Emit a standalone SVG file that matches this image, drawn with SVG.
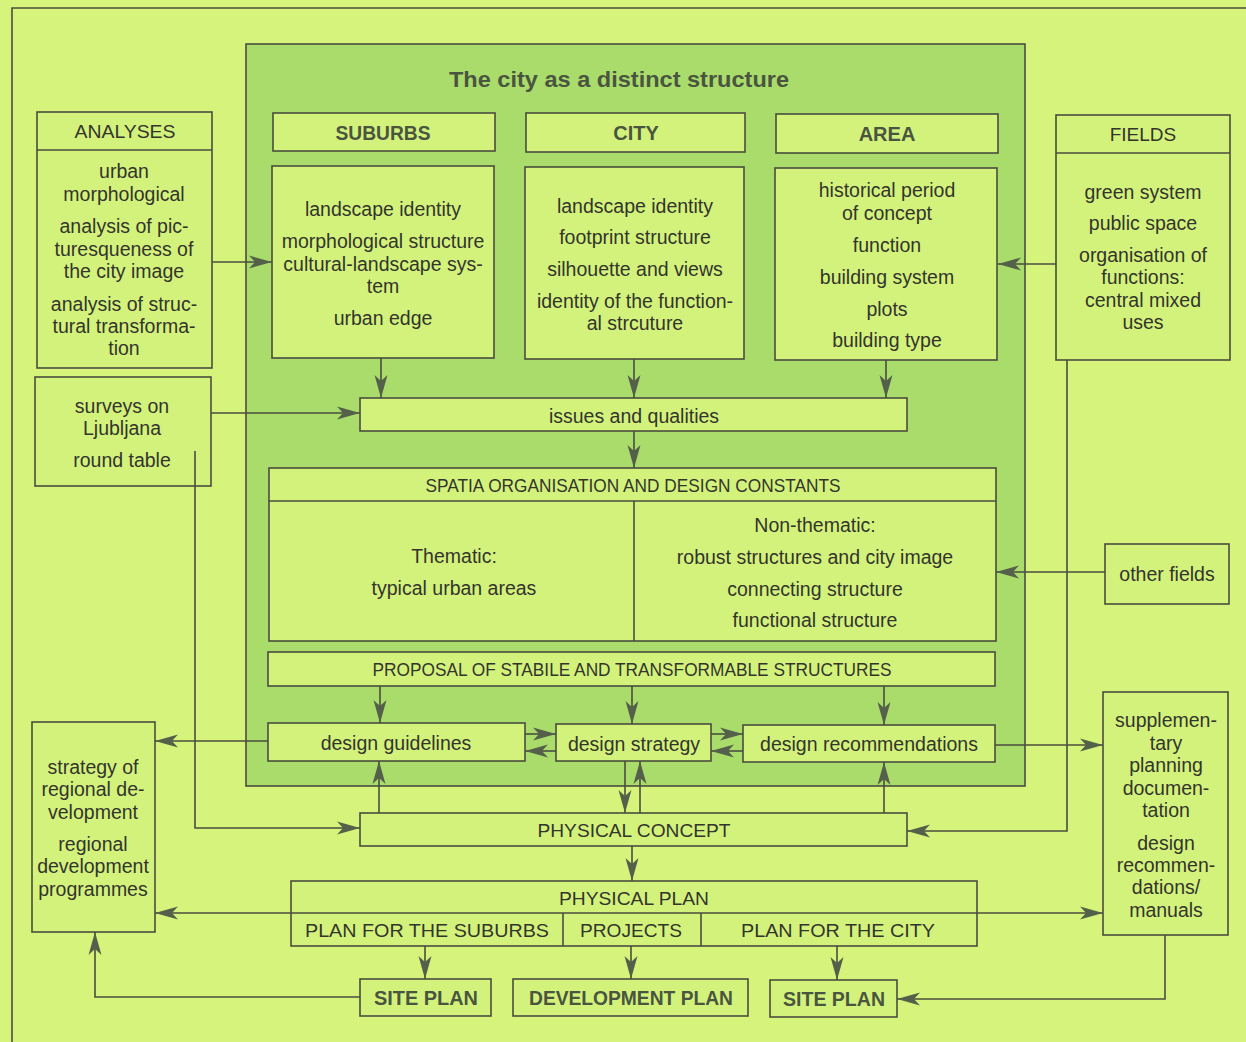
<svg xmlns="http://www.w3.org/2000/svg" width="1246" height="1042" viewBox="0 0 1246 1042">
<defs>
<style>
.bx{fill:#d3f27c;stroke:#4a4d3e;stroke-width:1.6}
.ln{fill:none;stroke:#4a4d3e;stroke-width:1.6}
.t{font-family:"Liberation Sans",Arial,sans-serif;font-size:19.5px;fill:#33352c;text-anchor:middle}
.u{font-family:"Liberation Sans",Arial,sans-serif;font-size:19px;fill:#33352c;text-anchor:middle}
.b{font-family:"Liberation Sans",Arial,sans-serif;font-size:20px;font-weight:bold;fill:#4a5540;text-anchor:middle}
.c{stroke:#4a4d3e;stroke-width:1.6;fill:none;marker-end:url(#ah)}
</style>
<marker id="ah" markerWidth="26" markerHeight="16" refX="23" refY="8" orient="auto" markerUnits="userSpaceOnUse">
<path d="M0,1.5 L23,8 L0,14.5 L6,8 z" fill="#55604a"/>
</marker>
</defs>
<rect width="1246" height="1042" fill="#d6f47c"/>
<path class="ln" d="M12,1042 V8 H1246"/>
<g id="panel">
<rect x="246" y="44" width="779" height="742" fill="#aadc6c" stroke="#4a4d3e" stroke-width="1.6"/>
<text x="619" y="87" class="b" style="font-size:22px" textLength="340" lengthAdjust="spacingAndGlyphs">The city as a distinct structure</text>
</g>
<g id="analyses">
<rect class="bx" x="37" y="112" width="175" height="256"/>
<line class="ln" x1="37" y1="150" x2="212" y2="150"/>
<text class="u" x="125" y="138" textLength="101" lengthAdjust="spacingAndGlyphs">ANALYSES</text>
<text class="t" x="124" y="178">urban</text>
<text class="t" x="124" y="201">morphological</text>
<text class="t" x="124" y="233">analysis of pic-</text>
<text class="t" x="124" y="256">turesqueness of</text>
<text class="t" x="124" y="278">the city image</text>
<text class="t" x="124" y="311">analysis of struc-</text>
<text class="t" x="124" y="333">tural transforma-</text>
<text class="t" x="124" y="355">tion</text>
</g>
<g id="suburbs">
<rect class="bx" x="273" y="113" width="222" height="38"/>
<text class="b" x="383" y="140" textLength="95" lengthAdjust="spacingAndGlyphs">SUBURBS</text>
<rect class="bx" x="272" y="166" width="222" height="192"/>
<text class="t" x="383" y="216">landscape identity</text>
<text class="t" x="383" y="248">morphological structure</text>
<text class="t" x="383" y="271">cultural-landscape sys-</text>
<text class="t" x="383" y="293">tem</text>
<text class="t" x="383" y="325">urban edge</text>
</g>
<g id="city">
<rect class="bx" x="526" y="113" width="219" height="39"/>
<text class="b" x="636" y="140">CITY</text>
<rect class="bx" x="525" y="167" width="219" height="192"/>
<text class="t" x="635" y="213">landscape identity</text>
<text class="t" x="635" y="244">footprint structure</text>
<text class="t" x="635" y="276">silhouette and views</text>
<text class="t" x="635" y="308">identity of the function-</text>
<text class="t" x="635" y="330">al strcuture</text>
</g>
<g id="area">
<rect class="bx" x="776" y="114" width="222" height="39"/>
<text class="b" x="887" y="141">AREA</text>
<rect class="bx" x="775" y="168" width="222" height="192"/>
<text class="t" x="887" y="197">historical period</text>
<text class="t" x="887" y="220">of concept</text>
<text class="t" x="887" y="252">function</text>
<text class="t" x="887" y="284">building system</text>
<text class="t" x="887" y="316">plots</text>
<text class="t" x="887" y="347">building type</text>
</g>
<g id="fields">
<rect class="bx" x="1056" y="115" width="174" height="245"/>
<line class="ln" x1="1056" y1="153" x2="1230" y2="153"/>
<text class="u" x="1143" y="141">FIELDS</text>
<text class="t" x="1143" y="199">green system</text>
<text class="t" x="1143" y="230">public space</text>
<text class="t" x="1143" y="262">organisation of</text>
<text class="t" x="1143" y="284">functions:</text>
<text class="t" x="1143" y="307">central mixed</text>
<text class="t" x="1143" y="329">uses</text>
</g>
<g id="surveys">
<rect class="bx" x="35" y="377" width="176" height="109"/>
<text class="t" x="122" y="413">surveys on</text>
<text class="t" x="122" y="435">Ljubljana</text>
<text class="t" x="122" y="467">round table</text>
</g>
<g id="issues">
<rect class="bx" x="360" y="398" width="547" height="33"/>
<text class="t" x="634" y="423">issues and qualities</text>
</g>
<g id="spatial">
<rect class="bx" x="269" y="468" width="727" height="173"/>
<line class="ln" x1="269" y1="501" x2="996" y2="501"/>
<line class="ln" x1="634" y1="501" x2="634" y2="641"/>
<text class="u" x="633" y="492" textLength="415" lengthAdjust="spacingAndGlyphs">SPATIA ORGANISATION AND DESIGN CONSTANTS</text>
<text class="t" x="454" y="563">Thematic:</text>
<text class="t" x="454" y="595">typical urban areas</text>
<text class="t" x="815" y="532">Non-thematic:</text>
<text class="t" x="815" y="564">robust structures and city image</text>
<text class="t" x="815" y="596">connecting structure</text>
<text class="t" x="815" y="627">functional structure</text>
</g>
<g id="otherfields">
<rect class="bx" x="1105" y="544" width="124" height="60"/>
<text class="t" x="1167" y="581">other fields</text>
</g>
<g id="proposal">
<rect class="bx" x="268" y="652" width="727" height="34"/>
<text class="u" x="632" y="676" textLength="519" lengthAdjust="spacingAndGlyphs">PROPOSAL OF STABILE AND TRANSFORMABLE STRUCTURES</text>
</g>
<g id="guidelines">
<rect class="bx" x="268" y="723" width="257" height="38"/>
<text class="t" x="396" y="750">design guidelines</text>
</g>
<g id="strategy">
<rect class="bx" x="556" y="724" width="155" height="37"/>
<text class="t" x="634" y="751">design strategy</text>
</g>
<g id="recommendations">
<rect class="bx" x="743" y="725" width="252" height="37"/>
<text class="t" x="869" y="751">design recommendations</text>
</g>
<g id="regional">
<rect class="bx" x="32" y="722" width="123" height="210"/>
<text class="t" x="93" y="774">strategy of</text>
<text class="t" x="93" y="796">regional de-</text>
<text class="t" x="93" y="819">velopment</text>
<text class="t" x="93" y="851">regional</text>
<text class="t" x="93" y="873">development</text>
<text class="t" x="93" y="896">programmes</text>
</g>
<g id="supplementary">
<rect class="bx" x="1103" y="692" width="125" height="243"/>
<text class="t" x="1166" y="727">supplemen-</text>
<text class="t" x="1166" y="750">tary</text>
<text class="t" x="1166" y="772">planning</text>
<text class="t" x="1166" y="795">documen-</text>
<text class="t" x="1166" y="817">tation</text>
<text class="t" x="1166" y="850">design</text>
<text class="t" x="1166" y="872">recommen-</text>
<text class="t" x="1166" y="894">dations/</text>
<text class="t" x="1166" y="917">manuals</text>
</g>
<g id="physicalconcept">
<rect class="bx" x="360" y="813" width="547" height="33"/>
<text class="u" x="634" y="837" textLength="193" lengthAdjust="spacingAndGlyphs">PHYSICAL CONCEPT</text>
</g>
<g id="physicalplan">
<rect class="bx" x="291" y="881" width="686" height="65"/>
<line class="ln" x1="291" y1="913" x2="977" y2="913"/>
<line class="ln" x1="563" y1="913" x2="563" y2="946"/>
<line class="ln" x1="701" y1="913" x2="701" y2="946"/>
<text class="u" x="634" y="905" textLength="150" lengthAdjust="spacingAndGlyphs">PHYSICAL PLAN</text>
<text class="u" x="427" y="937" textLength="244" lengthAdjust="spacingAndGlyphs">PLAN FOR THE SUBURBS</text>
<text class="u" x="631" y="937" textLength="102" lengthAdjust="spacingAndGlyphs">PROJECTS</text>
<text class="u" x="838" y="937" textLength="194" lengthAdjust="spacingAndGlyphs">PLAN FOR THE CITY</text>
</g>
<g id="siteplan1">
<rect class="bx" x="360" y="979" width="131" height="37"/>
<text class="b" x="426" y="1005" textLength="104" lengthAdjust="spacingAndGlyphs">SITE PLAN</text>
</g>
<g id="devplan">
<rect class="bx" x="513" y="979" width="235" height="37"/>
<text class="b" x="631" y="1005" textLength="204" lengthAdjust="spacingAndGlyphs">DEVELOPMENT PLAN</text>
</g>
<g id="siteplan2">
<rect class="bx" x="770" y="980" width="127" height="37"/>
<text class="b" x="834" y="1006" textLength="102" lengthAdjust="spacingAndGlyphs">SITE PLAN</text>
</g>
<g id="connectors">
<path class="c" d="M212,262 H272"/>
<path class="c" d="M1056,264 H998"/>
<path class="c" d="M211,413 H360"/>
<path class="c" d="M195,451 V828 H360"/>
<path class="c" d="M381,358 V398"/>
<path class="c" d="M634,359 V398"/>
<path class="c" d="M886,360 V398"/>
<path class="c" d="M634,431 V468"/>
<path class="c" d="M1105,572 H996"/>
<path class="c" d="M1067,360 V831 H907"/>
<path class="c" d="M380,686 V723"/>
<path class="c" d="M632,686 V724"/>
<path class="c" d="M884,686 V725"/>
<path class="c" d="M525,734 H556"/>
<path class="c" d="M556,751 H525"/>
<path class="c" d="M711,734 H743"/>
<path class="c" d="M743,751 H711"/>
<path class="c" d="M268,741 H155"/>
<path class="c" d="M995,745 H1103"/>
<path class="c" d="M379,813 V761"/>
<path class="c" d="M625,761 V813"/>
<path class="c" d="M640,813 V761"/>
<path class="c" d="M884,813 V762"/>
<path class="c" d="M632,846 V881"/>
<path class="c" d="M291,913 H155"/>
<path class="c" d="M977,913 H1103"/>
<path class="c" d="M425,946 V979"/>
<path class="c" d="M631,946 V979"/>
<path class="c" d="M837,946 V980"/>
<path class="c" d="M360,997 H95 V932"/>
<path class="c" d="M1165,935 V999 H897"/>
</g>
</svg>
